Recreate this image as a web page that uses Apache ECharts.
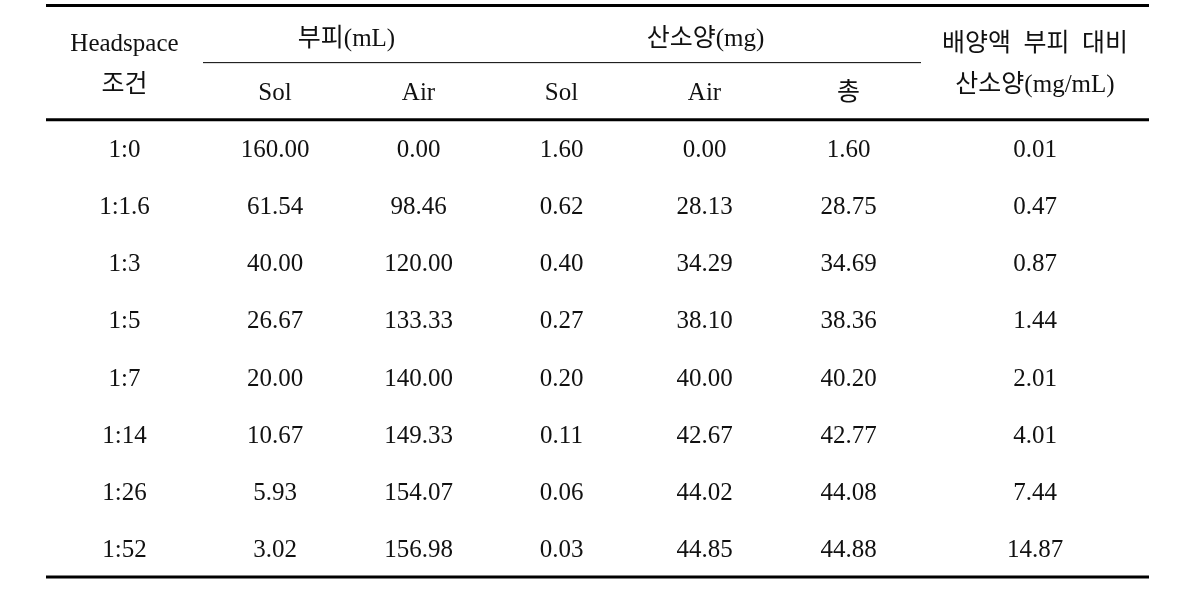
<!DOCTYPE html>
<html>
<head>
<meta charset="utf-8">
<script src="https://cdn.jsdelivr.net/npm/echarts@6/dist/echarts.min.js"></script>
<style>
html,body{margin:0;padding:0;background:#fff;}
#chart{width:1196px;height:592px;}
</style>
</head>
<body>
<div id="chart"></div>
<script>
// ---- data ----
const conditions = ['1:0', '1:1.6', '1:3', '1:5', '1:7', '1:14', '1:26', '1:52'];
const solVolume = [160.00, 61.54, 40.00, 26.67, 20.00, 10.67, 5.93, 3.02];
const airVolume = [0.00, 98.46, 120.00, 133.33, 140.00, 149.33, 154.07, 156.98];
const solOxygen = [1.60, 0.62, 0.40, 0.27, 0.20, 0.11, 0.06, 0.03];
const airOxygen = [0.00, 28.13, 34.29, 38.10, 40.00, 42.67, 44.02, 44.85];
const totalOxygen = [1.60, 28.75, 34.69, 38.36, 40.20, 42.77, 44.08, 44.88];
const oxygenPerVolume = [0.01, 0.47, 0.87, 1.44, 2.01, 4.01, 7.44, 14.87];

const headerMain = ['Headspace\n조건', '부피(mL)', '산소양(mg)', '배양액  부피  대비\n산소양(mg/mL)'];
const headerSub = ['Sol', 'Air', 'Sol', 'Air', '총'];

// ---- layout (relative column widths) ----
const colWidths = [157, 144, 143, 143, 143, 145, 228];
const colEdges = [0];
colWidths.forEach(w => colEdges.push(colEdges[colEdges.length - 1] + w));
const totalW = colEdges[colEdges.length - 1];
const headerRows = 2;
const totalRows = headerRows + conditions.length;

// ---- cells ----
const cells = [];
cells.push({col: 0, colSpan: 1, row: 0, rowSpan: 2, text: headerMain[0]});
cells.push({col: 1, colSpan: 2, row: 0, rowSpan: 1, text: headerMain[1]});
cells.push({col: 3, colSpan: 3, row: 0, rowSpan: 1, text: headerMain[2]});
cells.push({col: 6, colSpan: 1, row: 0, rowSpan: 2, text: headerMain[3]});
headerSub.forEach((t, i) => cells.push({col: 1 + i, colSpan: 1, row: 1, rowSpan: 1, text: t}));
const dataCols = [solVolume, airVolume, solOxygen, airOxygen, totalOxygen, oxygenPerVolume];
conditions.forEach((c, r) => {
  cells.push({col: 0, colSpan: 1, row: headerRows + r, rowSpan: 1, text: c});
  dataCols.forEach((arr, j) => {
    cells.push({col: 1 + j, colSpan: 1, row: headerRows + r, rowSpan: 1, text: arr[r].toFixed(2)});
  });
});

const rules = [
  {at: 0, from: 0, to: 7, w: 3},
  {at: 1, from: 1, to: 6, w: 1},
  {at: 2, from: 0, to: 7, w: 3},
  {at: totalRows, from: 0, to: 7, w: 3}
];

const FONT = '"Liberation Serif", "Noto Sans CJK KR", serif';

const chart = echarts.init(document.getElementById('chart'));
chart.setOption({
  animation: false,
  backgroundColor: '#fff',
  grid: {left: 46, right: 47, top: 5.5, bottom: 15},
  xAxis: {type: 'value', min: 0, max: totalW, show: false},
  yAxis: {type: 'value', min: 0, max: totalRows, inverse: true, show: false},
  series: [
    {
      type: 'custom',
      clip: false,
      data: rules.map(r => [r.from, r.at]),
      renderItem: function (params, api) {
        const r = rules[params.dataIndex];
        const p1 = api.coord([colEdges[r.from], r.at]);
        const p2 = api.coord([colEdges[r.to], r.at]);
        return {
          type: 'line',
          shape: {x1: p1[0], y1: p1[1], x2: p2[0], y2: p2[1]},
          style: {stroke: '#000', lineWidth: r.w}
        };
      }
    },
    {
      type: 'custom',
      clip: false,
      data: cells.map(c => [c.col, c.row]),
      renderItem: function (params, api) {
        const c = cells[params.dataIndex];
        const cx = (colEdges[c.col] + colEdges[c.col + c.colSpan]) / 2;
        const cy = c.row + c.rowSpan / 2;
        const p = api.coord([cx, cy]);
        const dy = (c.row === 0 && c.rowSpan === 1) ? 5 : 2;
        return {
          type: 'text',
          x: p[0],
          y: p[1] + dy,
          style: {
            text: c.text,
            textAlign: 'center',
            textVerticalAlign: 'middle',
            fontSize: 25,
            fontFamily: FONT,
            lineHeight: 41,
            fill: '#111'
          }
        };
      }
    }
  ]
});
</script>
</body>
</html>
